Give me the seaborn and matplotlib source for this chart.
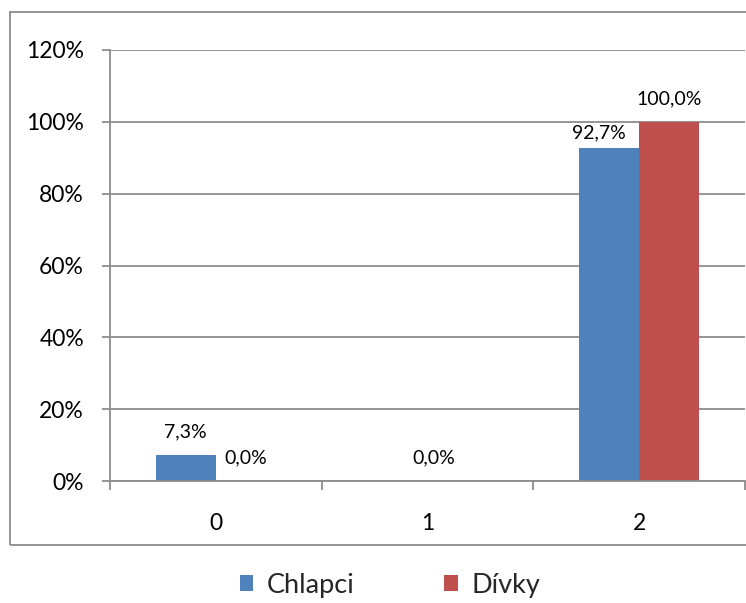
import matplotlib
matplotlib.use("Agg")
import matplotlib.pyplot as plt
from matplotlib.patches import Rectangle, Patch
from matplotlib.ticker import FixedLocator, FuncFormatter
import seaborn as sns
import pandas as pd

# Chart data
categories = ["0", "1", "2"]
chlapci = [7.3, 0.0, 92.7]
divky = [0.0, 0.0, 100.0]
series_names = ["Chlapci", "Dívky"]
colors = ["#4F81BD", "#C0504D"]
y_ticks = [0, 20, 40, 60, 80, 100, 120]

# Label placement tweaks (pixel offsets); None hides a label
label_shift = {
    ("Chlapci", 0): (0, 0),
    ("Chlapci", 1): None,
    ("Chlapci", 2): (-10, -8),
    ("Dívky", 0): (0, 0),
    ("Dívky", 1): (-24, 0),
    ("Dívky", 2): (0, 0),
}

df = pd.DataFrame({
    "skupina": categories * 2,
    "podil": chlapci + divky,
    "pohlavi": [series_names[0]] * 3 + [series_names[1]] * 3,
})

sns.set_theme(style="white")
plt.rcParams["font.family"] = ["Lato", "DejaVu Sans"]

DPI = 100
fig = plt.figure(figsize=(7.46, 6.03), dpi=DPI)
W, H = 746, 603


def px2pt(p):
    return p * 72.0 / DPI


# outer chart frame
fig.patches.append(Rectangle((10 / W, 1 - 545 / H), 1.0, (545 - 12) / H,
                             transform=fig.transFigure, fill=False,
                             edgecolor="#8C8C8C", lw=1.3, zorder=0))

ax = fig.add_axes([110 / W, 1 - 481 / H, 635 / W, 431 / H])
sns.barplot(data=df, x="skupina", y="podil", hue="pohlavi",
            palette=colors, saturation=1, width=0.57, ax=ax,
            order=categories, hue_order=series_names, legend=False,
            errorbar=None, linewidth=0)

ax.set_ylim(0, 120)
ax.set_xlim(-0.5, 2.5)
ax.set_xlabel("")
ax.set_ylabel("")

grid_c = "#8C8C8C"
ax.yaxis.set_major_locator(FixedLocator(y_ticks))
ax.yaxis.set_major_formatter(FuncFormatter(lambda v, p: f"{v:.0f}%"))
ax.yaxis.grid(True, color=grid_c, lw=1.3)
ax.set_axisbelow(True)

ax.set_xticks(range(len(categories)))
ax.set_xticklabels(categories)
ax.xaxis.set_minor_locator(FixedLocator([-0.5, 0.5, 1.5, 2.5]))
ax.tick_params(axis="x", which="major", length=0, pad=px2pt(32), labelsize=16.5,
               labelcolor="black")
ax.tick_params(axis="x", which="minor", length=px2pt(9), width=1.3,
               color=grid_c, direction="out", bottom=True)
ax.tick_params(axis="y", length=px2pt(8), width=1.3, color=grid_c,
               direction="out", left=True, pad=px2pt(18), labelsize=16.5,
               labelcolor="black")

for side in ["top", "right"]:
    ax.spines[side].set_visible(False)
for side in ["left", "bottom"]:
    ax.spines[side].set_color(grid_c)
    ax.spines[side].set_linewidth(1.3)

# value labels
for name, cont in zip(series_names, ax.containers):
    for i, bar in enumerate(cont):
        shift = label_shift[(name, i)]
        if shift is None:
            continue
        v = bar.get_height()
        txt = f"{v:.1f}".replace(".", ",") + "%"
        ax.annotate(txt, (bar.get_x() + bar.get_width() / 2, v),
                    xytext=(px2pt(shift[0]), px2pt(23 + shift[1])),
                    textcoords="offset points", ha="center", va="center",
                    fontsize=14, color="black")

handles = [Patch(facecolor=c, edgecolor="none") for c in colors]
fig.legend(handles, series_names, loc="center", bbox_to_anchor=(390 / W, 1 - 585 / H),
           ncol=2, frameon=False, fontsize=19.5, handlelength=0.5,
           handleheight=0.5, handletextpad=0.5, columnspacing=3.3)

fig.savefig("out.png", dpi=DPI)
